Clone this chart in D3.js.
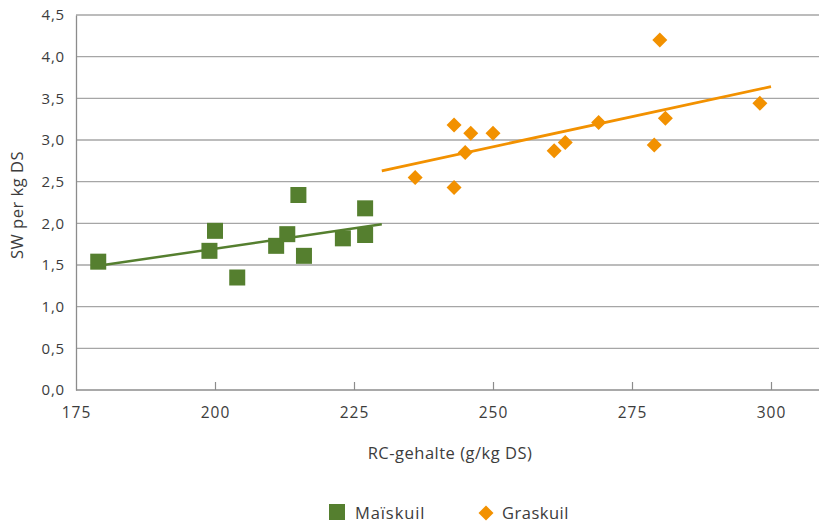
<!DOCTYPE html>
<html>
<head>
<meta charset="utf-8">
<script src="https://cdn.jsdelivr.net/npm/d3@7/dist/d3.min.js"></script>
<style>
  html, body { margin: 0; padding: 0; background: #fff; }
  svg { display: block; }
  text { font-family: "Open Sans", Lato, sans-serif; fill: #3c3c3c; }
</style>
</head>
<body>
<svg id="chart" width="819" height="524"></svg>
<script>
// ---- data ----
const maisX = [179, 200, 199, 204, 211, 213, 215, 216, 223, 227, 227];
const maisY = [1.54, 1.91, 1.67, 1.35, 1.73, 1.87, 2.34, 1.61, 1.82, 2.18, 1.86];
const grasX = [236, 243, 243, 246, 245, 250, 261, 263, 269, 280, 279, 281, 298];
const grasY = [2.55, 3.18, 2.43, 3.08, 2.85, 3.08, 2.87, 2.97, 3.21, 4.20, 2.94, 3.26, 3.44];
// trendlines (start/end)
const maisTrendX = [179, 230];
const maisTrendY = [1.49, 1.99];
const grasTrendX = [230, 300];
const grasTrendY = [2.63, 3.64];
const xTicks = [175, 200, 225, 250, 275, 300];
const yTicks = [0, 0.5, 1, 1.5, 2, 2.5, 3, 3.5, 4, 4.5];
const xTitle = "RC-gehalte (g/kg DS)";
const yTitle = "SW per kg DS";
const seriesNames = ["Maïskuil", "Graskuil"];

const green = "#557f2f", orange = "#f29100";

const svg = d3.select("#chart");
const x = d3.scaleLinear().domain([175, 300]).range([76, 771]);
const y = d3.scaleLinear().domain([0, 4.5]).range([390, 15]);
const plotRight = 819;
const fmt = d => d.toFixed(1).replace(".", ",");

// gridlines
svg.append("g").selectAll("line").data(yTicks.filter(d => d > 0)).join("line")
  .attr("x1", 76).attr("x2", plotRight)
  .attr("y1", d => y(d)).attr("y2", d => y(d))
  .attr("stroke", "#a6a6a6").attr("stroke-width", 1.3);

// y axis
const yAxis = svg.append("g").attr("transform", "translate(76,0)")
  .call(d3.axisLeft(y).tickValues(yTicks).tickFormat(fmt).tickSize(0).tickPadding(11));
yAxis.select(".domain").attr("stroke", "#8c8c8c").attr("stroke-width", 1.3);
yAxis.selectAll("text").style("font-size", "15px").style("letter-spacing", "0.8px").attr("fill", "#3c3c3c");

// x axis
const xAxis = svg.append("g").attr("transform", "translate(0,390)")
  .call(d3.axisBottom(x).tickValues(xTicks).tickFormat(d3.format("d")).tickSizeInner(-8).tickSizeOuter(0).tickPadding(17));
xAxis.select(".domain").attr("d", `M76,0H${plotRight}`).attr("stroke", "#8c8c8c").attr("stroke-width", 1.3);
xAxis.selectAll(".tick line").attr("stroke", "#8c8c8c").attr("stroke-width", 1.2);
xAxis.selectAll(".tick").filter(d => d === 175).select("line").remove();
xAxis.selectAll("text").style("font-size", "15.5px").style("letter-spacing", "1px").attr("fill", "#3c3c3c");

// trendlines
const line = d3.line().x(d => x(d[0])).y(d => y(d[1]));
svg.append("path").datum(d3.zip(maisTrendX, maisTrendY)).attr("d", line)
  .attr("fill", "none").attr("stroke", green).attr("stroke-width", 2.5);
svg.append("path").datum(d3.zip(grasTrendX, grasTrendY)).attr("d", line)
  .attr("fill", "none").attr("stroke", orange).attr("stroke-width", 2.8);

// markers
const sq = 16;
svg.append("g").selectAll("rect").data(d3.zip(maisX, maisY)).join("rect")
  .attr("x", d => x(d[0]) - sq / 2).attr("y", d => y(d[1]) - sq / 2)
  .attr("width", sq).attr("height", sq).attr("fill", green);
const dia = 7.5;
const diamond = `M0,${-dia}L${dia},0L0,${dia}L${-dia},0Z`;
svg.append("g").selectAll("path").data(d3.zip(grasX, grasY)).join("path")
  .attr("transform", d => `translate(${x(d[0])},${y(d[1])})`)
  .attr("d", diamond).attr("fill", orange);

// axis titles
svg.append("text").attr("x", 450).attr("y", 459).attr("text-anchor", "middle")
  .style("font-size", "16.5px").style("letter-spacing", "0.5px").text(xTitle);
svg.append("text").attr("transform", "translate(23,205) rotate(-90)").attr("text-anchor", "middle")
  .style("font-size", "16.5px").style("letter-spacing", "0.5px").text(yTitle);

// legend
const lg = svg.append("g");
lg.append("rect").attr("x", 329).attr("y", 504).attr("width", 16).attr("height", 16).attr("fill", green);
lg.append("text").attr("x", 355).attr("y", 519).style("font-size", "16.5px").style("letter-spacing", "0.9px").text(seriesNames[0]);
lg.append("path").attr("transform", "translate(486,513)").attr("d", diamond).attr("fill", orange);
lg.append("text").attr("x", 502).attr("y", 519).style("font-size", "16.5px").style("letter-spacing", "0.5px").text(seriesNames[1]);
</script>
</body>
</html>
